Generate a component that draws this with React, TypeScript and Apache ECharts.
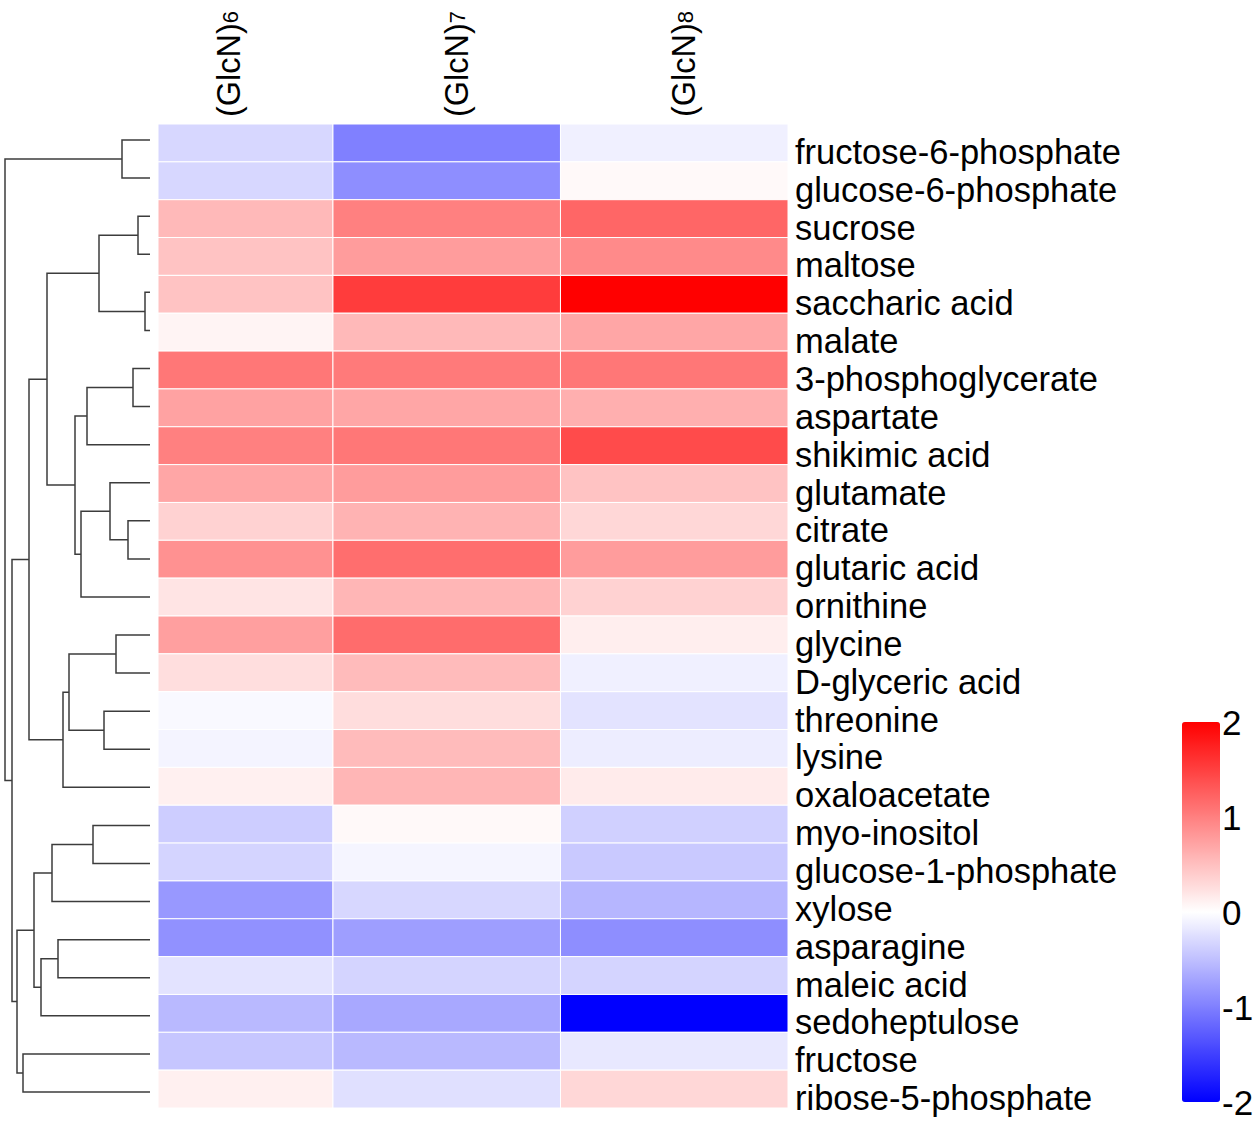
import React, { useEffect, useRef } from "react";
import * as echarts from "echarts";

// ---------- data ----------
const metabolites = [
  "fructose-6-phosphate",
  "glucose-6-phosphate",
  "sucrose",
  "maltose",
  "saccharic acid",
  "malate",
  "3-phosphoglycerate",
  "aspartate",
  "shikimic acid",
  "glutamate",
  "citrate",
  "glutaric acid",
  "ornithine",
  "glycine",
  "D-glyceric acid",
  "threonine",
  "lysine",
  "oxaloacetate",
  "myo-inositol",
  "glucose-1-phosphate",
  "xylose",
  "asparagine",
  "maleic acid",
  "sedoheptulose",
  "fructose",
  "ribose-5-phosphate",
];

const columnBase = "(GlcN)";
const columnSubs = ["6", "7", "8"];

const valuesGlcN6 = [
  -0.31, -0.31, 0.55, 0.47, 0.47, 0.09, 1.07, 0.73, 1.0, 0.7, 0.35, 0.86, 0.21,
  0.75, 0.26, -0.05, -0.09, 0.12, -0.39, -0.34, -0.81, -0.86, -0.22, -0.55, -0.45, 0.12,
];
const valuesGlcN7 = [
  -1.0, -0.89, 1.0, 0.78, 1.53, 0.55, 1.04, 0.7, 1.07, 0.78, 0.6, 1.14, 0.57,
  1.15, 0.53, 0.27, 0.53, 0.57, 0.05, -0.08, -0.31, -0.76, -0.34, -0.68, -0.55, -0.24,
];
const valuesGlcN8 = [
  -0.12, 0.05, 1.2, 0.92, 2.0, 0.7, 1.07, 0.63, 1.41, 0.47, 0.31, 0.78, 0.35,
  0.13, -0.12, -0.22, -0.14, 0.16, -0.37, -0.42, -0.57, -0.89, -0.34, -2.0, -0.18, 0.31,
];

// dendrogram merges: [childA, childB, height]; ids 0..25 are leaves, 26+ are merges in order
const dendroMerges: [number, number, number][] = [
  [0, 1, 28],
  [2, 3, 12],
  [4, 5, 5],
  [27, 28, 51],
  [6, 7, 17],
  [30, 8, 63],
  [10, 11, 22],
  [9, 32, 40],
  [33, 12, 69],
  [31, 34, 75],
  [29, 35, 103],
  [13, 14, 34],
  [15, 16, 46],
  [37, 38, 81],
  [39, 17, 87],
  [36, 40, 121],
  [18, 19, 57],
  [42, 20, 98],
  [21, 22, 92],
  [44, 23, 109],
  [43, 45, 116],
  [24, 25, 127],
  [46, 47, 133],
  [41, 48, 138],
  [26, 49, 145],
];

const colorbarMin = -2;
const colorbarMax = 2;
const colorbarStep = 1;

// ---------- helpers ----------
function buildHeatData() {
  const cols = [valuesGlcN6, valuesGlcN7, valuesGlcN8];
  const out: number[][] = [];
  cols.forEach((vals, c) => {
    vals.forEach((v, r) => out.push([c, r, v]));
  });
  return out;
}

function buildDendroData() {
  const Y: number[] = metabolites.map((_, i) => i);
  const H: number[] = metabolites.map(() => 0);
  const segs: number[][] = [];
  dendroMerges.forEach(([a, b, h]) => {
    segs.push([H[a], Y[a], h, Y[b], H[b]]);
    Y.push((Y[a] + Y[b]) / 2);
    H.push(h);
  });
  return segs;
}

const FONT = "'Liberation Sans', Arial, sans-serif";

export default function App() {
  const ref = useRef<HTMLDivElement>(null);

  useEffect(() => {
    if (!ref.current) return;
    const chart = echarts.init(ref.current, undefined, { renderer: "svg" });

    const option: any = {
      animation: false,
      backgroundColor: "#ffffff",
      grid: [
        { left: 5, top: 121, width: 145, height: 990 },
        { left: 158, top: 124, width: 630, height: 984 },
        { left: 1182, top: 722, width: 38, height: 380 },
      ],
      xAxis: [
        {
          gridIndex: 0,
          type: "value",
          min: 0,
          max: 145,
          inverse: true,
          show: false,
        },
        {
          gridIndex: 1,
          type: "value",
          min: 0.231,
          max: 3,
          position: "top",
          axisLine: { show: false },
          axisTick: { show: false },
          splitLine: { show: false },
          axisLabel: {
            customValues: [0.5, 1.5, 2.5],
            rotate: -90,
            margin: 7,
            color: "#000",
            fontFamily: FONT,
            formatter: (v: number) =>
              `{m|${columnBase}}{s|${columnSubs[Math.floor(v)]}}`,
            rich: {
              m: {
                fontSize: 32.5,
                lineHeight: 44,
                padding: [20, 0, 0, 0],
                fontFamily: FONT,
                color: "#000",
              },
              s: { fontSize: 22, verticalAlign: "bottom", fontFamily: FONT, color: "#000" },
            },
          },
        },
        { gridIndex: 2, type: "value", show: false, min: 0, max: 1 },
      ],
      yAxis: [
        {
          gridIndex: 0,
          type: "value",
          min: -0.5,
          max: 25.5,
          inverse: true,
          show: false,
        },
        {
          gridIndex: 1,
          type: "category",
          data: metabolites,
          inverse: true,
          position: "right",
          axisLine: { show: false },
          axisTick: { show: false },
          splitLine: { show: false },
          axisLabel: {
            interval: 0,
            margin: 7,
            formatter: (v: string) => `{n|${v}}`,
            rich: {
              n: {
                fontSize: 34.5,
                padding: [18, 0, 0, 0],
                color: "#000",
                fontFamily: FONT,
              },
            },
          },
        },
        {
          gridIndex: 2,
          type: "value",
          min: colorbarMin,
          max: colorbarMax,
          interval: colorbarStep,
          position: "right",
          axisLine: { show: false },
          axisTick: { show: false },
          splitLine: { show: false },
          axisLabel: {
            fontSize: 35,
            margin: 2,
            color: "#000",
            fontFamily: FONT,
          },
        },
      ],
      visualMap: {
        type: "continuous",
        min: colorbarMin,
        max: colorbarMax,
        seriesIndex: 1,
        dimension: 2,
        orient: "vertical",
        left: 1182,
        top: 722,
        itemWidth: 38,
        itemHeight: 380,
        padding: 0,
        calculable: false,
        hoverLink: false,
        inRange: { color: ["#0000ff", "#ffffff", "#ff0000"] },
      },
      series: [
        {
          type: "custom",
          xAxisIndex: 0,
          yAxisIndex: 0,
          silent: true,
          data: buildDendroData(),
          renderItem: (params: any, api: any) => {
            const hA = api.value(0);
            const yA = api.value(1);
            const h = api.value(2);
            const yB = api.value(3);
            const hB = api.value(4);
            const pts = [
              api.coord([hA, yA]),
              api.coord([h, yA]),
              api.coord([h, yB]),
              api.coord([hB, yB]),
            ];
            return {
              type: "polyline",
              shape: { points: pts },
              style: { stroke: "#3c3c3c", lineWidth: 1.5, fill: null },
            };
          },
        },
        {
          type: "custom",
          xAxisIndex: 1,
          yAxisIndex: 1,
          silent: true,
          data: buildHeatData(),
          renderItem: (params: any, api: any) => {
            const c = api.value(0);
            const r = api.value(1);
            const p0 = api.coord([c, r]);
            const p1 = api.coord([c + 1, r]);
            const band = api.size([1, 1])[1];
            const rect = {
              x: p0[0],
              y: p0[1] - band / 2,
              width: p1[0] - p0[0],
              height: band,
            };
            const cs = params.coordSys;
            const clipped = echarts.graphic.clipRectByRect(rect, {
              x: cs.x,
              y: cs.y,
              width: cs.width,
              height: cs.height,
            });
            if (!clipped) return null;
            return {
              type: "rect",
              shape: clipped,
              style: { fill: api.visual("color"), stroke: "#ffffff", lineWidth: 1 },
            };
          },
        },
      ],
    };

    chart.setOption(option);
    return () => chart.dispose();
  }, []);

  return (
    <div
      ref={ref}
      style={{ position: "absolute", left: 0, top: 0, width: 1260, height: 1125 }}
    />
  );
}
